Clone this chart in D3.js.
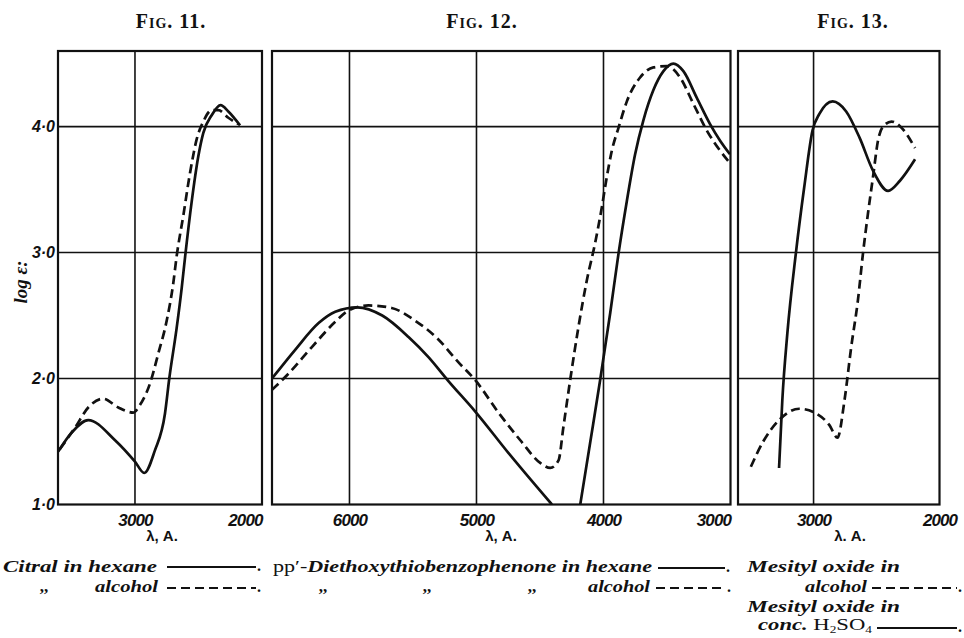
<!DOCTYPE html>
<html>
<head>
<meta charset="utf-8">
<script src="https://cdn.jsdelivr.net/npm/d3@7"></script>
<style>
    body { margin: 0; background: #fff; }
    svg { display: block; }
</style>
</head>
<body>
<svg id="chart" width="964" height="638"></svg>
<script>
// ---- values ----
const logTicks = [1, 2, 3, 4]
const logTickLabels = ['1·0', '2·0', '3·0', '4·0']
const fig11Ticks = [3000, 2000]
const fig12Ticks = [6000, 5000, 4000, 3000]
const fig13Ticks = [3000, 2000]

// Fig. 11 - citral
const citralHexaneWl = [3604, 3499, 3368, 3157, 3000, 2927, 2843, 2764, 2730, 2672, 2632, 2606, 2554, 2502, 2462, 2396, 2326, 2265, 2173]
const citralHexaneLogE = [1.42, 1.57, 1.67, 1.51, 1.34, 1.25, 1.43, 1.72, 2.00, 2.40, 2.72, 2.96, 3.40, 3.76, 3.95, 4.09, 4.17, 4.12, 4.01]
const citralAlcoholWl = [3591, 3472, 3368, 3250, 3131, 3013, 2961, 2882, 2816, 2750, 2698, 2672, 2620, 2567, 2514, 2462, 2396, 2344, 2265, 2187]
const citralAlcoholLogE = [1.44, 1.61, 1.77, 1.84, 1.77, 1.73, 1.79, 1.96, 2.20, 2.46, 2.76, 2.97, 3.29, 3.63, 3.90, 4.04, 4.13, 4.13, 4.07, 4.02]

// Fig. 12 - pp'-diethoxythiobenzophenone (hexane curve leaves the plate between the two bands)
const thioHexaneVisWl = [6610, 6426, 6243, 6112, 5939, 5742, 5535, 5378, 5221, 5011, 4749, 4406]
const thioHexaneVisLogE = [2.00, 2.23, 2.44, 2.53, 2.565, 2.50, 2.33, 2.17, 1.98, 1.74, 1.41, 1.00]
const thioHexaneUvWl = [4183, 4105, 4026, 3947, 3882, 3816, 3751, 3686, 3607, 3528, 3450, 3371, 3266, 3161, 3083, 3004]
const thioHexaneUvLogE = [1.00, 1.49, 1.99, 2.52, 2.99, 3.41, 3.78, 4.05, 4.29, 4.44, 4.50, 4.44, 4.23, 4.02, 3.89, 3.78]
const thioAlcoholWl = [6610, 6479, 6296, 6112, 6008, 5851, 5668, 5484, 5300, 5143, 5012, 4820, 4655, 4498, 4419, 4354, 4315, 4262, 4197, 4131, 4065, 4013, 3974, 3934, 3882, 3816, 3712, 3607, 3502, 3397, 3292, 3187, 3083, 3004]
const thioAlcoholLogE = [1.91, 2.04, 2.25, 2.45, 2.54, 2.58, 2.56, 2.46, 2.31, 2.13, 1.99, 1.72, 1.51, 1.33, 1.29, 1.35, 1.62, 1.99, 2.41, 2.78, 3.08, 3.36, 3.60, 3.81, 3.99, 4.20, 4.39, 4.47, 4.48, 4.39, 4.18, 3.97, 3.81, 3.71]

// Fig. 13 - mesityl oxide
const mesitylAlcoholWl = [3498, 3394, 3274, 3114, 2994, 2874, 2810, 2754, 2701, 2648, 2608, 2568, 2528, 2488, 2448, 2381, 2301, 2194]
const mesitylAlcoholLogE = [1.30, 1.51, 1.67, 1.76, 1.73, 1.63, 1.53, 1.83, 2.25, 2.62, 2.99, 3.31, 3.60, 3.89, 4.00, 4.04, 3.99, 3.83]
const mesitylAcidWl = [3274, 3248, 3208, 3141, 3074, 3008, 2954, 2848, 2741, 2634, 2528, 2408, 2314, 2194]
const mesitylAcidLogE = [1.29, 1.83, 2.36, 2.99, 3.52, 3.97, 4.10, 4.20, 4.12, 3.91, 3.65, 3.49, 3.57, 3.74]

// ---- layout ----
const svg = d3.select('#chart')
const plotTop = 51
const plotBottom = 504.5
const ink = '#111'
const numFont = '"Liberation Sans", Arial, sans-serif'
const serif = '"Liberation Serif", "Times New Roman", serif'

const y = d3.scaleLinear().domain([1, 4.6]).range([plotBottom, plotTop])

const panels = [
    { key: 'f11', title: 'Fig. 11.', titleX: 171, left: 58, right: 262, domain: [3606, 2000], ticks: fig11Ticks,
      lastAnchor: 'end', axisLabel: 'λ, A.', axisLabelX: 162,
      series: [
          { wl: citralHexaneWl, v: citralHexaneLogE, dash: null },
          { wl: citralAlcoholWl, v: citralAlcoholLogE, dash: '9,5' }
      ] },
    { key: 'f12', title: 'Fig. 12.', titleX: 482, left: 272, right: 730.5, domain: [6610, 3000], ticks: fig12Ticks,
      lastAnchor: 'end', axisLabel: 'λ, A.', axisLabelX: 501,
      series: [
          { wl: thioHexaneVisWl, v: thioHexaneVisLogE, dash: null },
          { wl: thioHexaneUvWl, v: thioHexaneUvLogE, dash: null },
          { wl: thioAlcoholWl, v: thioAlcoholLogE, dash: '9,5' }
      ] },
    { key: 'f13', title: 'Fig. 13.', titleX: 853, left: 738, right: 939.5, domain: [3600, 2000], ticks: fig13Ticks,
      lastAnchor: 'middle', axisLabel: 'λ. A.', axisLabelX: 850,
      series: [
          { wl: mesitylAcidWl, v: mesitylAcidLogE, dash: null },
          { wl: mesitylAlcoholWl, v: mesitylAlcoholLogE, dash: '9,5' }
      ] }
]

panels.forEach((p) => {
    const x = d3.scaleLinear().domain(p.domain).range([p.left, p.right])
    const g = svg.append('g').attr('class', p.key)

    // title
    g.append('text')
        .attr('x', p.titleX).attr('y', 28)
        .attr('text-anchor', 'middle')
        .style('font-family', serif)
        .style('font-size', '20px')
        .style('font-weight', 'bold')
        .style('letter-spacing', '1px')
        .style('font-variant', 'small-caps')
        .style('fill', ink)
        .text(p.title)

    // clip for curves
    svg.append('clipPath').attr('id', 'clip-' + p.key)
        .append('rect')
        .attr('x', p.left).attr('y', plotTop)
        .attr('width', p.right - p.left).attr('height', plotBottom - plotTop)

    // grid
    g.append('g').selectAll('line')
        .data(logTicks.filter(d => d > 1))
        .enter().append('line')
        .attr('x1', p.left).attr('x2', p.right)
        .attr('y1', d => y(d)).attr('y2', d => y(d))
        .attr('stroke', ink).attr('stroke-width', 1.6)

    g.append('g').selectAll('line')
        .data(p.ticks.filter(d => d < p.domain[0] && d > p.domain[1]))
        .enter().append('line')
        .attr('x1', d => x(d)).attr('x2', d => x(d))
        .attr('y1', plotTop).attr('y2', plotBottom)
        .attr('stroke', ink).attr('stroke-width', 1.6)

    // frame
    g.append('rect')
        .attr('x', p.left).attr('y', plotTop)
        .attr('width', p.right - p.left).attr('height', plotBottom - plotTop)
        .attr('fill', 'none').attr('stroke', ink).attr('stroke-width', 2.2)

    // curves
    const line = d3.line()
        .x(d => x(d[0]))
        .y(d => y(d[1]))
        .curve(d3.curveMonotoneX)

    const curves = g.append('g').attr('clip-path', 'url(#clip-' + p.key + ')')
    p.series.forEach((s) => {
        curves.append('path')
            .datum(d3.zip(s.wl, s.v))
            .attr('d', line)
            .attr('fill', 'none')
            .attr('stroke', ink)
            .attr('stroke-width', 2.7)
            .attr('stroke-linejoin', 'round')
            .attr('stroke-dasharray', s.dash)
    })

    // x tick labels
    const xAxis = g.append('g')
        .attr('transform', 'translate(0,' + plotBottom + ')')
        .call(d3.axisBottom(x).tickValues(p.ticks).tickSize(0).tickPadding(9).tickFormat(d3.format('d')))
    xAxis.select('.domain').remove()
    xAxis.selectAll('text')
        .style('font-family', numFont)
        .style('font-size', '17px')
        .style('font-weight', 'bold')
        .style('font-style', 'italic')
        .style('letter-spacing', '-0.9px')
        .style('fill', ink)
    xAxis.selectAll('.tick').filter((d, i, n) => i === n.length - 1).select('text')
        .attr('text-anchor', p.lastAnchor)

    g.append('text')
        .attr('x', p.axisLabelX).attr('y', 541)
        .attr('text-anchor', 'middle')
        .style('font-family', numFont)
        .style('font-size', '15px')
        .style('font-weight', 'bold')
        .style('fill', ink)
        .text(p.axisLabel)

    if (p.key === 'f11') {
        const yAxis = g.append('g')
            .attr('transform', 'translate(' + p.left + ',0)')
            .call(d3.axisLeft(y).tickValues(logTicks).tickSize(0).tickPadding(3).tickFormat((d, i) => logTickLabels[i]))
        yAxis.select('.domain').remove()
        yAxis.selectAll('text')
            .style('font-family', numFont)
            .style('font-size', '16px')
            .style('font-weight', 'bold')
            .style('font-style', 'italic')
            .style('fill', ink)

        g.append('text')
            .attr('transform', 'translate(27,282) rotate(-90)')
            .attr('text-anchor', 'middle')
            .style('font-family', serif)
            .style('font-size', '19px')
            .style('font-style', 'italic')
            .style('font-weight', 'bold')
            .style('fill', ink)
            .text('log ε:')
    }
})

// ---- legends ----
function legendText(xp, yp, width) {
    const t = svg.append('text')
        .attr('x', xp).attr('y', yp)
        .style('font-family', serif)
        .style('font-size', '17px')
        .style('font-style', 'italic')
        .style('font-weight', 'bold')
        .style('fill', ink)
    if (width) t.attr('textLength', width).attr('lengthAdjust', 'spacingAndGlyphs')
    return t
}

function ditto(xp, yp) {
    svg.append('text')
        .attr('x', xp).attr('y', yp)
        .attr('text-anchor', 'middle')
        .style('font-family', serif).style('font-size', '17px').style('font-weight', 'bold')
        .style('fill', ink)
        .text(',,')
}

function legendSwatch(x1, x2, yp, dash) {
    svg.append('line')
        .attr('x1', x1).attr('x2', x2)
        .attr('y1', yp).attr('y2', yp)
        .attr('stroke', ink).attr('stroke-width', 1.8)
        .attr('stroke-dasharray', dash)
    svg.append('text')
        .attr('x', x2 + 1).attr('y', yp + 4)
        .style('font-family', serif).style('font-size', '16px').style('font-weight', 'bold').style('fill', ink)
        .text('.')
}

// Fig. 11
legendText(3, 572, 154).text('Citral in hexane')
legendSwatch(167, 256, 567, null)
ditto(44, 592)
legendText(95, 592, 63).text('alcohol')
legendSwatch(167, 256, 588, '9,5')

// Fig. 12
const l12 = legendText(273, 572, 379)
l12.append('tspan').style('font-style', 'normal').style('font-weight', 'normal').text('pp′-')
l12.append('tspan').text('Diethoxythiobenzophenone in hexane')
legendSwatch(658, 725, 568, null)
;[323, 427, 532].forEach(xp => ditto(xp, 592))
legendText(588, 592, 62).text('alcohol')
legendSwatch(656, 726, 588, '9,5')

// Fig. 13
legendText(747, 572, 153).text('Mesityl oxide in')
legendText(805, 592, 62).text('alcohol')
legendSwatch(872, 957, 588, '9,5')
legendText(747, 612, 153).text('Mesityl oxide in')
const l13 = legendText(758, 630, 114)
l13.append('tspan').text('conc. ')
l13.append('tspan').style('font-style', 'normal').style('font-weight', 'normal').text('H')
l13.append('tspan').style('font-style', 'normal').style('font-weight', 'normal').style('font-size', '10px').attr('dy', 3).text('2')
l13.append('tspan').style('font-style', 'normal').style('font-weight', 'normal').attr('dy', -3).text('SO')
l13.append('tspan').style('font-style', 'normal').style('font-weight', 'normal').style('font-size', '10px').attr('dy', 3).text('4')
legendSwatch(877, 957, 628, null)
</script>
</body>
</html>
